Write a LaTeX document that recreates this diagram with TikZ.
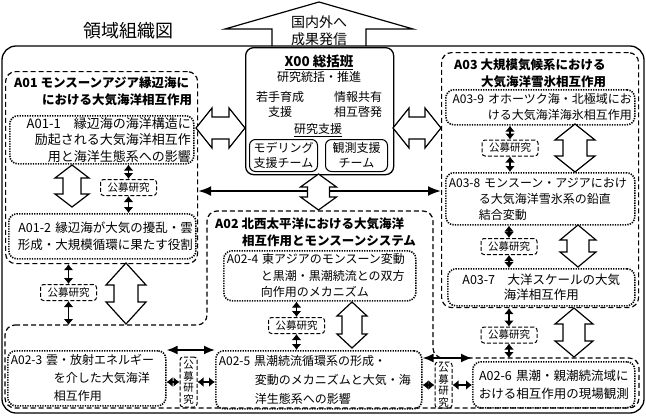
\documentclass[tikz,border=0pt]{standalone}
\usepackage{fontspec}
\setmainfont{Noto Sans CJK JP}
\usetikzlibrary{arrows.meta}

\newcommand{\fsz}[2]{\fontsize{#1}{#2}\selectfont}
\newcommand{\vblock}[6]{\draw[blk] (#1,#2) -- (#1+#4,#2+#6) -- (#1+#5,#2+#6) -- (#1+#5,#3-#6) -- (#1+#4,#3-#6) -- (#1,#3) -- (#1-#4,#3-#6) -- (#1-#5,#3-#6) -- (#1-#5,#2+#6) -- (#1-#4,#2+#6) -- cycle;}
\newcommand{\hblock}[6]{\draw[blk] (#1,#3) -- (#1+#6,#3-#4) -- (#1+#6,#3-#5) -- (#2-#6,#3-#5) -- (#2-#6,#3-#4) -- (#2,#3) -- (#2-#6,#3+#4) -- (#2-#6,#3+#5) -- (#1+#6,#3+#5) -- (#1+#6,#3+#4) -- cycle;}

\tikzset{
  frame/.style={line width=1.3pt, rounded corners=14pt},
  group/.style={draw, line width=1.2pt, dash pattern=on 5pt off 3pt, rounded corners=10pt, inner sep=0pt},
  topic/.style={draw, line width=1.6pt, dash pattern=on 1.3pt off 1.2pt, rounded corners=8pt, inner xsep=3pt, inner ysep=0pt, anchor=north west},
  ttl/.style={font=\bfseries\fsz{12.5}{17}, align=left, inner sep=0pt, anchor=west},
  kobo/.style={draw, line width=1pt, dash pattern=on 4pt off 2pt, rounded corners=3pt, font=\fsz{10.5}{11.5}, inner sep=1pt, minimum width=56pt, minimum height=16pt, align=center},
  team/.style={draw, line width=1pt, rounded corners=6pt, font=\fsz{12}{15}, align=center, inner sep=1pt, minimum height=32pt, anchor=north west},
  blk/.style={draw, fill=white, line width=1.2pt, line join=miter},
  link/.style={line width=1.8pt, {Latex[length=6pt,width=10pt]}-{Latex[length=6pt,width=10pt]}},
  pair/.style={line width=1.8pt, {Latex[length=11pt,width=9pt]}-{Latex[length=11pt,width=9pt]}},
  bus/.style={line width=2pt, {Latex[length=13pt,width=10pt]}-{Latex[length=13pt,width=10pt]}},
}

\begin{document}
\begin{tikzpicture}[x=1pt, y=-1pt]
  \useasboundingbox (0,0) rectangle (646,416);
  \node (hdr) at (128,31) {\fsz{18}{20}領域組織図};
  \draw[blk] (272,46) -- (272,29) -- (225,29) -- (319,2) -- (413,29) -- (366,29) -- (366,46);
  \node[align=center, font=\fsz{14}{16.5}] (pub) at (319,30.5) {国内外へ\\成果発信};
  \draw[frame] (2,46) rectangle (644,413);

  \node[draw, line width=1.3pt, rounded corners=8pt, fill=white, minimum width=148pt, minimum height=127pt, anchor=north west] (x00) at (245,47) {};
  \node[font=\bfseries\fsz{13.5}{15}] (x00h) at (319,62) {\underline{X00 総括班}};
  \node[font=\fsz{12}{15}] (x00a) at (319,77) {研究統括・推進};
  \node[font=\fsz{12}{15}, align=center] (x00b) at (280,104.5) {若手育成\\支援};
  \node[font=\fsz{12}{15}, align=center] (x00c) at (358,104.5) {情報共有\\相互啓発};
  \node[font=\fsz{12}{15}] (x00d) at (318,130) {\underline{研究支援}};
  \node[team, minimum width=68pt] (mdl) at (249,139) {モデリング\\支援チーム};
  \node[team, minimum width=62pt] (obs) at (325,139) {観測支援\\チーム};

  \node[group, minimum width=192pt, minimum height=192pt, anchor=north west] (a01) at (5,71) {};
  \node[ttl] (a01t) at (14,91.5) {A01 モンスーンアジア縁辺海に\\\hspace*{28pt}における大気海洋相互作用};
  \node[topic, minimum width=184pt, minimum height=48pt, text width=178pt, align=right, font=\fsz{13}{16.5}] (a011) at (9,115) {A01-1　縁辺海の海洋構造に\\励起される大気海洋相互作\\用と海洋生態系への影響};
  \node[kobo] (k1) at (128.5,187.5) {公募研究};
  \node[topic, minimum width=187pt, minimum height=45pt, text width=181pt, align=right, font=\fsz{12.5}{17}] (a012) at (8,213) {A01-2 縁辺海が大気の擾乱・雲\\形成・大規模循環に果たす役割};
  \node[kobo] (k2) at (68.5,292.5) {公募研究};

  \draw[group] (5,325) -- (207,325) -- (207,211) -- (433,211) -- (433,358) -- (639,358) -- (639,408) -- (5,408) -- cycle;
  \coordinate (a02l) at (5,325);
  \coordinate (a02r) at (433,358);
  \node[ttl] (a02t) at (215,232.5) {A02 北西太平洋における大気海洋\\\hspace*{27pt}相互作用とモンスーンシステム};
  \node[topic, minimum width=192pt, minimum height=50pt, text width=186pt, align=left, font=\fsz{12}{16.5}] (a024) at (223,250) {A02-4 東アジアのモンスーン変動\\\hspace*{34pt}と黒潮・黒潮続流との双方\\\hspace*{34pt}向作用のメカニズム};
  \node[kobo] (k3) at (296.5,325.5) {公募研究};
  \node[topic, minimum width=206pt, minimum height=58pt, text width=200pt, align=left, font=\fsz{12}{19}] (a025) at (215,350) {A02-5 黒潮続流循環系の形成・\\\hspace*{36pt}変動のメカニズムと大気・海\\\hspace*{36pt}洋生態系への影響};
  \node[topic, minimum width=158pt, minimum height=55pt, text width=152pt, align=left, font=\fsz{12}{18}] (a023) at (7,350) {A02-3 雲・放射エネルギー\\\hspace*{43pt}を介した大気海洋\\\hspace*{43pt}相互作用};
  \node[kobo, minimum width=17pt, minimum height=50pt] (kv1) at (188.5,382) {公\\募\\研\\究};
  \node[topic, minimum width=162pt, minimum height=46pt, text width=156pt, align=center, font=\fsz{12.5}{18}] (a026) at (472,361) {A02-6 黒潮・親潮続流域に\\おける相互作用の現場観測};
  \node[kobo, minimum width=17pt, minimum height=46pt] (kv2) at (443.5,385) {公\\募\\研\\究};

  \node[group, minimum width=197pt, minimum height=255pt, anchor=north west] (a03) at (441,52) {};
  \node[ttl] (a03t) at (454,73.5) {A03 大規模気候系における\\\hspace*{27pt}大気海洋雪氷相互作用};
  \node[topic, minimum width=189pt, minimum height=35pt, text width=183pt, align=right, font=\fsz{12}{16}] (a039) at (445,89) {A03-9 オホーツク海・北極域にお\\ける大気海洋海氷相互作用};
  \node[kobo] (k4) at (510,148) {公募研究};
  \node[topic, minimum width=189pt, minimum height=52pt, text width=183pt, align=left, font=\fsz{12}{16}] (a038) at (445,172) {A03-8 モンスーン・アジアにおけ\\\hspace*{30pt}る大気海洋雪氷系の鉛直\\\hspace*{30pt}結合変動};
  \node[kobo] (k5) at (509,246.5) {公募研究};
  \node[topic, minimum width=187pt, minimum height=37pt, text width=181pt, align=center, font=\fsz{12.5}{15.5}] (a037) at (447,268) {A03-7　大洋スケールの大気\\海洋相互作用};
  \node[kobo] (k6) at (509,335) {公募研究};

  \coordinate (busy) at (319,191);
  \draw[bus] (a01.east |- busy) -- (a03.west |- busy);
  \hblock{196}{245}{128}{20}{11}{16}
  \hblock{393}{441}{128}{20}{11}{16}
  \vblock{318.5}{174}{210}{18}{11}{13}
  \vblock{72}{165}{207}{17}{9}{13}
  \vblock{126}{263}{324}{20}{12}{22}
  \vblock{352}{302}{348}{15}{10}{14}
  \vblock{575}{124}{172}{20}{12}{16}
  \vblock{578}{225}{267}{18}{11}{15}
  \vblock{574}{308}{357}{19}{11}{16}

  \draw[link] (k1.north |- a011.south) -- (k1.north);
  \draw[link] (k1.south) -- (k1.south |- a012.north);
  \draw[link] (k2.north |- a01.south) -- (k2.north);
  \draw[link] (k2.south) -- (k2.south |- a02l);
  \draw[link] (k3.north |- a024.south) -- (k3.north);
  \draw[link] (k3.south) -- (k3.south |- a025.north);
  \draw[link] (k4.north |- a039.south) -- (k4.north);
  \draw[link] (k4.south) -- (k4.south |- a038.north);
  \draw[link] (k5.north |- a038.south) -- (k5.north);
  \draw[link] (k5.south) -- (k5.south |- a037.north);
  \draw[link] (k6.north |- a03.south) -- (k6.north);
  \draw[link] (k6.south) -- (k6.south |- a02r);
  \draw[link] (kv1.west -| a023.east) -- (kv1.west);
  \draw[link] (kv1.east) -- (kv1.east -| a025.west);
  \draw[link] (kv2.west -| a025.east) -- (kv2.west);
  \draw[link] (kv2.east) -- (kv2.east -| a026.west);
  \draw[pair] (a023.north east) -- (a025.north west);
  \draw[pair] (a025.north east |- a02r) -- (a026.west |- a02r);
\end{tikzpicture}
\end{document}
